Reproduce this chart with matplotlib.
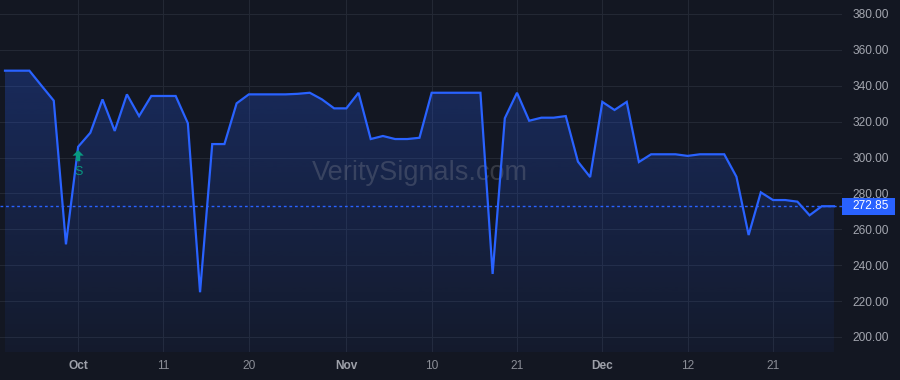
import numpy as np
import matplotlib
matplotlib.use('Agg')
import matplotlib.pyplot as plt
from matplotlib.patches import Rectangle
from matplotlib.transforms import blended_transform_factory, offset_copy

plt.rcParams['font.family'] = ['Liberation Sans', 'DejaVu Sans']

# closing prices, one per session
prices = [348.4, 348.4, 348.4, 340.0, 331.7, 251.6, 306.0, 313.8, 332.4, 314.8,
          335.2, 323.1, 334.3, 334.3, 334.3, 319.1, 224.9, 307.5, 307.5, 330.2,
          335.2, 335.2, 335.2, 335.2, 335.5, 336.1, 332.4, 327.4, 327.4, 336.1,
          310.3, 312.0, 310.3, 310.3, 311.0, 336.1, 336.1, 336.1, 336.1, 336.1,
          235.1, 321.9, 336.1, 320.5, 322.2, 322.2, 323.1, 297.7, 289.1, 331.0,
          326.5, 331.0, 297.5, 301.8, 301.8, 301.8, 300.9, 301.8, 301.8, 301.8,
          289.3, 256.8, 280.6, 276.3, 276.3, 275.4, 267.8, 272.85, 272.85]
last_price = 272.85
tick_idx = [6, 13, 20, 28, 35, 42, 49, 56, 63]
tick_labels = ['Oct', '11', '20', 'Nov', '10', '21', 'Dec', '12', '21']
month_labels = ['Oct', 'Nov', 'Dec']
signal_idx = 6
signal_text = 'S'
y_ticks = [200, 220, 240, 260, 280, 300, 320, 340, 360, 380]
watermark = 'VeritySignals.com'

bg = '#131722'
blue = '#2962ff'
grid = '#232834'
teal = '#089981'

x = np.arange(len(prices))
y = np.array(prices)

fig = plt.figure(figsize=(9, 3.8), dpi=100, facecolor=bg)
ax = fig.add_axes([0, 28 / 380, 842 / 900, 352 / 380])
ax.set_facecolor(bg)
ymin, ymax = 191.6, 387.8
ax.set_xlim(-0.41, 68.66)
ax.set_ylim(ymin, ymax)

# gradient area under the line
fill = ax.fill_between(x, y, ymin, color='none', lw=0)
grad = np.zeros((256, 1, 4))
rgb = matplotlib.colors.to_rgb(blue)
grad[:, 0, :3] = rgb
grad[:, 0, 3] = np.linspace(0.26, 0.05, 256)
top = y.max()
im = ax.imshow(grad, extent=[x[0], x[-1], ymin, top], origin='upper',
               aspect='auto', zorder=1)
im.set_clip_path(fill.get_paths()[0], transform=ax.transData)

ax.plot(x, y, color=blue, lw=1.6, zorder=3, solid_joinstyle='miter')

# grid
for t in y_ticks:
    ax.axhline(t, color=grid, lw=0.8, zorder=0.5)
for t in tick_idx:
    ax.axvline(t, color=grid, lw=0.8, zorder=0.5)

ax.axhline(last_price, color=blue, lw=1, ls=(0, (2, 2)), zorder=2)

for s in ax.spines.values():
    s.set_visible(False)

ax.set_yticks(y_ticks)
ax.set_yticklabels([f'{v:.2f}' for v in y_ticks])
ax.tick_params(axis='y', left=False, labelleft=False, right=True, labelright=True,
               length=0, pad=7.5, labelsize=8.6, labelcolor='#a3a6af')
ax.set_xticks(tick_idx)
ax.set_xticklabels(tick_labels)
ax.tick_params(axis='x', length=0, pad=6, labelsize=8.6, labelcolor='#8b8e97')
for lab in ax.get_xticklabels():
    if lab.get_text() in month_labels:
        lab.set_fontweight('bold')
        lab.set_color('#9ea1aa')

# last price tag
tr = blended_transform_factory(ax.transAxes, ax.transData)
h = 17 / 1.794
ax.add_patch(Rectangle((1.0, last_price - h / 2), 53 / 842, h, transform=tr,
                       fc=blue, ec='none', clip_on=False, zorder=5))
ax.text(1.0 + 10 / 842, last_price, f'{last_price:.2f}', transform=tr,
        ha='left', va='center', color='white', fontsize=8.6, zorder=6)

# signal marker
v = prices[signal_idx]
tip = offset_copy(ax.transData, fig=fig, x=0, y=-2.4, units='points')
ax.annotate('', xy=(signal_idx, v), xycoords=tip, xytext=(0, -8),
            textcoords='offset points',
            arrowprops=dict(facecolor=teal, edgecolor='none', width=3,
                            headwidth=8, headlength=4), zorder=4)
ax.annotate(signal_text, xy=(signal_idx, v), xytext=(0, -18),
            textcoords='offset points', ha='center', va='center',
            color=teal, fontsize=9, zorder=4)

ax.text(0.499, 0.508, watermark, transform=ax.transAxes, ha='center',
        va='center', fontsize=19.5, color='#9598a1', alpha=0.27, zorder=2.5)

fig.savefig('out.png', dpi=100, facecolor=bg)
